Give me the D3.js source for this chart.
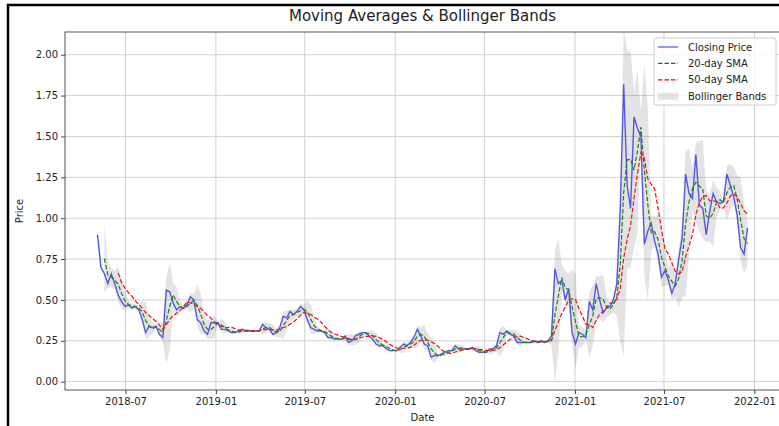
<!DOCTYPE html>
<html>
<head>
<meta charset="utf-8">
<script src="https://cdn.jsdelivr.net/npm/d3@7"></script>
<style>
body { margin: 0; background: #fff; }
svg { display: block; font-family: "DejaVu Sans", sans-serif; }
</style>
</head>
<body>
<script>
// weekly closes, one value every stepDays from startDate
const startDate = "2018-05-05";
const stepDays = 7;

const close2018 = [
    0.90, 0.70, 0.66, 0.60,             // may
    0.66, 0.60, 0.53, 0.49, 0.46,       // jun
    0.47, 0.45, 0.46, 0.44,             // jul
    0.38, 0.30, 0.34, 0.33,             // aug
    0.34, 0.29, 0.27, 0.56, 0.55,       // sep
    0.48, 0.44, 0.46, 0.45,             // oct
    0.47, 0.52, 0.50, 0.38,             // nov
    0.36, 0.31, 0.29, 0.36, 0.36        // dec
];
const close2019 = [
    0.36, 0.32, 0.32, 0.31,
    0.30, 0.30, 0.31, 0.32,
    0.31, 0.31, 0.31, 0.31, 0.31,
    0.35, 0.33, 0.32, 0.29,
    0.30, 0.33, 0.40, 0.39,
    0.43, 0.41, 0.43, 0.46, 0.44,
    0.38, 0.33, 0.32, 0.31,
    0.31, 0.30, 0.27, 0.27, 0.26,
    0.26, 0.26, 0.28, 0.24,
    0.25, 0.28, 0.29, 0.30,
    0.30, 0.28, 0.26, 0.23, 0.22,
    0.22, 0.20, 0.19, 0.19
];
const close2020 = [
    0.19, 0.21, 0.23, 0.22,
    0.24, 0.27, 0.32, 0.28, 0.23,
    0.22, 0.15, 0.16, 0.16,
    0.17, 0.18, 0.19, 0.19,
    0.22, 0.20, 0.20, 0.20, 0.20,
    0.21, 0.19, 0.18, 0.18,
    0.18, 0.20, 0.20, 0.22,
    0.30, 0.29, 0.31, 0.29, 0.28,
    0.24, 0.24, 0.24, 0.24,
    0.24, 0.25, 0.24, 0.25, 0.24,
    0.25, 0.28, 0.69, 0.60,
    0.62, 0.50, 0.57, 0.30
];
const close2021 = [
    0.23, 0.30, 0.29, 0.27, 0.49,
    0.44, 0.60, 0.50, 0.42,
    0.45, 0.46, 0.50, 0.60,
    1.05, 1.82, 1.20, 1.06,
    1.62, 1.55, 1.50, 0.84, 0.92,
    0.97, 0.86, 0.78, 0.64,
    0.68, 0.62, 0.54, 0.60, 0.75,
    0.88, 1.27, 1.15, 1.12,
    1.39, 1.08, 1.06, 0.90,
    1.04, 1.15, 1.10, 1.09, 1.10,
    1.27, 1.20, 1.13, 1.02,
    0.82, 0.78, 0.94
];

const yTicks = [0, 0.25, 0.5, 0.75, 1.0, 1.25, 1.5, 1.75, 2.0];
const xTickDates = ["2018-07-01", "2019-01-01", "2019-07-01", "2020-01-01",
    "2020-07-01", "2021-01-01", "2021-07-01", "2022-01-01"];
const seriesNames = ["Closing Price", "20-day SMA", "50-day SMA", "Bollinger Bands"];

const width = 779, height = 426;
const plot = { left: 65, right: 780, top: 32, bottom: 390 };

const parse = d3.timeParse("%Y-%m-%d");
const t0 = parse(startDate);
const close = [...close2018, ...close2019, ...close2020, ...close2021];

// window lengths in samples
const w20 = Math.round(20 / stepDays);
const w50 = Math.round(50 / stepDays);

const rows = close.map((v, i) => {
    let r = { date: d3.timeDay.offset(t0, i * stepDays), close: v, sma20: null, sma50: null, upper: null, lower: null };
    if (i >= w20 - 1) {
        let s = close.slice(i - w20 + 1, i + 1);
        let m = d3.mean(s);
        let sd = Math.sqrt(d3.mean(s, x => (x - m) * (x - m)));
        r.sma20 = m;
        r.upper = m + 2 * sd;
        r.lower = m - 2 * sd;
    }
    if (i >= w50 - 1) r.sma50 = d3.mean(close.slice(i - w50 + 1, i + 1));
    return r;
});

// matplotlib style 5% margin on the date range
const first = rows[0].date, last = rows[rows.length - 1].date;
const pad = (last - first) * 0.05;
const x = d3.scaleTime()
    .domain([new Date(+first - pad), new Date(+last + pad)])
    .range([plot.left, plot.right]);
const y = d3.scaleLinear()
    .domain([-0.051, 2.139])
    .range([plot.bottom, plot.top]);

const svg = d3.select("body").append("svg")
    .attr("width", width)
    .attr("height", height);

svg.append("defs").append("clipPath")
    .attr("id", "clip")
    .append("rect")
    .attr("x", plot.left).attr("y", plot.top)
    .attr("width", plot.right - plot.left)
    .attr("height", plot.bottom - plot.top);

//grid
const xTicks = xTickDates.map(parse);
svg.append("g").selectAll("line")
    .data(xTicks).enter().append("line")
    .attr("x1", d => x(d)).attr("x2", d => x(d))
    .attr("y1", plot.top).attr("y2", plot.bottom)
    .attr("stroke", "#d0d0d0").attr("stroke-width", 1);
svg.append("g").selectAll("line")
    .data(yTicks).enter().append("line")
    .attr("x1", plot.left).attr("x2", plot.right)
    .attr("y1", d => y(d)).attr("y2", d => y(d))
    .attr("stroke", "#d0d0d0").attr("stroke-width", 1);

const g = svg.append("g").attr("clip-path", "url(#clip)");

const lineOf = key => d3.line()
    .defined(d => d[key] != null)
    .x(d => x(d.date))
    .y(d => y(d[key]));

g.append("path")
    .datum(rows)
    .attr("d", lineOf("close"))
    .attr("fill", "none")
    .attr("stroke", "#0000ff")
    .attr("stroke-opacity", 0.7)
    .attr("stroke-width", 1.4);

g.append("path")
    .datum(rows)
    .attr("d", lineOf("sma20"))
    .attr("fill", "none")
    .attr("stroke", "#008000")
    .attr("stroke-width", 1.2)
    .attr("stroke-dasharray", "4.5,2");

g.append("path")
    .datum(rows)
    .attr("d", lineOf("sma50"))
    .attr("fill", "none")
    .attr("stroke", "#ff0000")
    .attr("stroke-width", 1.2)
    .attr("stroke-dasharray", "4.5,2");

// bands go on top, like fill_between after the plots
g.append("path")
    .datum(rows)
    .attr("d", d3.area()
        .defined(d => d.upper != null)
        .x(d => x(d.date))
        .y0(d => y(d.lower))
        .y1(d => y(d.upper)))
    .attr("fill", "#808080")
    .attr("fill-opacity", 0.22);

//axes
const xAxis = svg.append("g")
    .attr("transform", `translate(0,${plot.bottom})`)
    .call(d3.axisBottom(x).tickValues(xTicks).tickFormat(d3.timeFormat("%Y-%m")).tickSize(4).tickSizeOuter(0));
const yAxis = svg.append("g")
    .attr("transform", `translate(${plot.left},0)`)
    .call(d3.axisLeft(y).tickValues(yTicks).tickFormat(d3.format(".2f")).tickSize(4).tickSizeOuter(0));
[xAxis, yAxis].forEach(a => {
    a.select(".domain").remove();
    a.selectAll("line").attr("stroke", "#444");
    a.selectAll("text").attr("fill", "#222").style("font-size", "10px").style("font-family", "DejaVu Sans");
});
xAxis.selectAll("text").attr("dy", "0.75em").attr("y", 7);
yAxis.selectAll("text").attr("x", -7);

svg.append("rect")
    .attr("x", plot.left).attr("y", plot.top)
    .attr("width", plot.right - plot.left)
    .attr("height", plot.bottom - plot.top)
    .attr("fill", "none")
    .attr("stroke", "#555")
    .attr("stroke-width", 1);

svg.append("text")
    .attr("x", (plot.left + plot.right) / 2).attr("y", 21)
    .attr("text-anchor", "middle")
    .style("font-size", "15px").attr("fill", "#222")
    .text("Moving Averages & Bollinger Bands");
svg.append("text")
    .attr("x", (plot.left + plot.right) / 2).attr("y", 421)
    .attr("text-anchor", "middle")
    .style("font-size", "10px").attr("fill", "#222")
    .text("Date");
svg.append("text")
    .attr("transform", `translate(23,${(plot.top + plot.bottom) / 2}) rotate(-90)`)
    .attr("text-anchor", "middle")
    .style("font-size", "10px").attr("fill", "#222")
    .text("Price");

//legend
const lg = svg.append("g").attr("transform", "translate(654,38)");
lg.append("rect")
    .attr("width", 122).attr("height", 67).attr("rx", 2)
    .attr("fill", "#fff").attr("fill-opacity", 0.8)
    .attr("stroke", "#cccccc");
const legendStyles = [
    { stroke: "#0000ff", opacity: 0.7, dash: null },
    { stroke: "#008000", opacity: 1, dash: "4.5,2" },
    { stroke: "#ff0000", opacity: 1, dash: "4.5,2" },
    { fill: "#808080" }
];
seriesNames.forEach((name, i) => {
    let ry = 9 + i * 16.4;
    let s = legendStyles[i];
    if (s.fill) {
        lg.append("rect").attr("x", 4).attr("y", ry - 3.5).attr("width", 20).attr("height", 7)
            .attr("fill", s.fill).attr("fill-opacity", 0.22);
    } else {
        lg.append("line").attr("x1", 4).attr("x2", 24).attr("y1", ry).attr("y2", ry)
            .attr("stroke", s.stroke).attr("stroke-opacity", s.opacity)
            .attr("stroke-width", 1.2).attr("stroke-dasharray", s.dash);
    }
    lg.append("text").attr("x", 34).attr("y", ry).attr("dy", "0.35em")
        .style("font-size", "10px").attr("fill", "#222")
        .text(name);
});

// screenshot frame on top and left
svg.append("path")
    .attr("d", `M8,${height} L8,5 L${width},5`)
    .attr("fill", "none")
    .attr("stroke", "#000")
    .attr("stroke-width", 2.5);
</script>
</body>
</html>
